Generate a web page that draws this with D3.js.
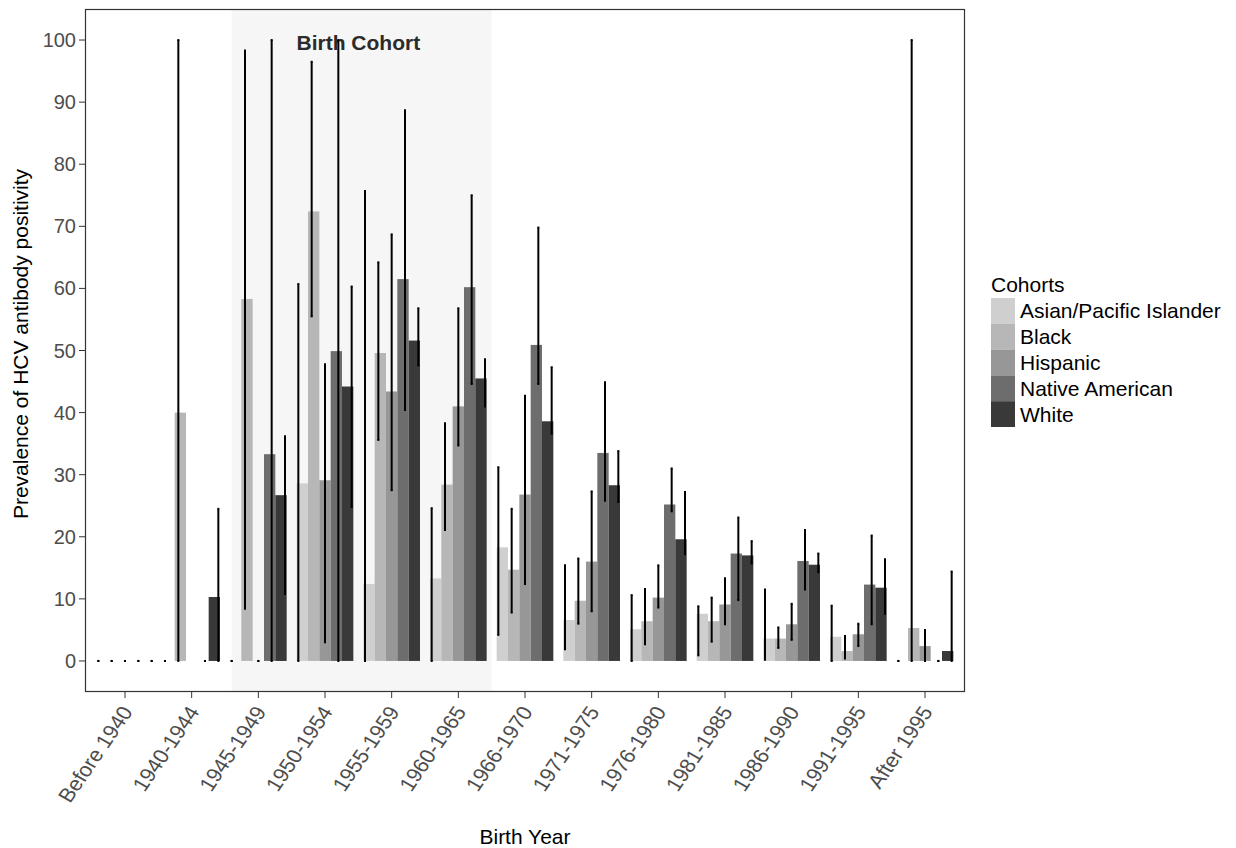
<!DOCTYPE html>
<html>
<head>
<meta charset="utf-8">
<script src="https://cdn.jsdelivr.net/npm/d3@7"></script>
<style>
  body { margin: 0; background: #fff; }
  svg { display: block; font-family: "Liberation Sans", Arial, sans-serif; }
</style>
</head>
<body>
<div class="canvas"></div>
<script>
const categories = ["Before 1940", "1940-1944", "1945-1949", "1950-1954", "1955-1959", "1960-1965",
  "1966-1970", "1971-1975", "1976-1980", "1981-1985", "1986-1990", "1991-1995", "After 1995"];
const cohorts = ["Asian/Pacific Islander", "Black", "Hispanic", "Native American", "White"];
const yTicks = [0, 10, 20, 30, 40, 50, 60, 70, 80, 90, 100];

// prevalence (%) and its interval, one array per cohort, null = not reported
const asian   = [0, 0, 0, 28.6, 12.4, 13.3, 18.3, 6.6, 5.1, 7.6, 3.6, 3.9, 0];
const asianLo = [0, 0, 0, 0, 0, 0, 4.2, 1.9, 0, 0.9, 0.2, 0, 0];
const asianHi = [0, 0, 0, 60.7, 75.7, 24.6, 31.2, 15.4, 10.6, 8.8, 11.5, 8.9, 0];

const black   = [0, 40.0, 58.3, 72.4, 49.6, 28.4, 14.7, 9.7, 6.4, 6.4, 3.6, 1.6, 5.3];
const blackLo = [0, 0, 8.4, 55.5, 35.6, 21.1, 7.8, 6.0, 2.7, 3.1, 2.1, 0.4, 0];
const blackHi = [0, 100, 98.3, 96.5, 64.2, 38.3, 24.5, 16.5, 11.6, 10.2, 5.4, 4.0, 100];

const hispanic   = [0, null, 0, 29.1, 43.4, 41.0, 26.8, 16.0, 10.2, 9.1, 5.9, 4.3, 2.4];
const hispanicLo = [0, null, 0, 3.0, 27.5, 34.7, 12.4, 8.0, 8.6, 5.9, 3.4, 2.4, 0];
const hispanicHi = [0, null, 0, 47.8, 68.7, 56.8, 42.7, 27.3, 15.4, 13.3, 9.2, 6.0, 5.0];

const native   = [0, 0, 33.3, 49.9, 61.5, 60.2, 50.9, 33.5, 25.2, 17.3, 16.1, 12.3, 0];
const nativeLo = [0, 0, 0, 0, 40.4, 44.6, 44.6, 25.8, 24.1, 9.8, 11.5, 5.9, 0];
const nativeHi = [0, 0, 100, 100, 88.7, 75.0, 69.8, 44.9, 31.0, 23.1, 21.1, 20.2, 0];

const white   = [0, 10.3, 26.7, 44.2, 51.6, 45.5, 38.6, 28.3, 19.6, 17.0, 15.5, 11.8, 1.6];
const whiteLo = [0, 0, 10.8, 24.8, 47.6, 41.0, 36.6, 25.6, 17.2, 15.7, 14.3, 7.6, 0];
const whiteHi = [0, 24.5, 36.2, 60.3, 56.8, 48.6, 47.3, 33.8, 27.2, 19.3, 17.3, 16.4, 14.4];

const fills = ["#cfcfcf", "#b7b7b7", "#979797", "#6d6d6d", "#393939"];

const series = [
  [asian, asianLo, asianHi],
  [black, blackLo, blackHi],
  [hispanic, hispanicLo, hispanicHi],
  [native, nativeLo, nativeHi],
  [white, whiteLo, whiteHi]
];

const rows = [];
categories.forEach((c, i) => {
  cohorts.forEach((g, j) => {
    const [v, lo, hi] = series[j];
    if (v[i] === null) return;
    rows.push({cat: c, cohort: g, value: v[i], lo: lo[i], hi: hi[i]});
  });
});

const W = 1236, H = 848;
const panel = {left: 85, right: 965, top: 9, bottom: 692};

const svg = d3.select(".canvas").append("svg")
  .attr("width", W).attr("height", H);

const x = d3.scaleBand()
  .domain(categories)
  .range([panel.left, panel.right])
  .paddingInner(0).paddingOuter(0.1);
const step = x.step();
const mid = c => x(c) + x.bandwidth() / 2;

// bars dodge over 0.85 of a category, the error bars over a full one
const xBar = d3.scaleBand().domain(cohorts).range([-0.425 * step, 0.425 * step]);
const xErr = d3.scaleBand().domain(cohorts).range([-0.5 * step, 0.5 * step]);

const y = d3.scaleLinear().domain([-5, 105]).range([panel.bottom, panel.top]);

const color = d3.scaleOrdinal().domain(cohorts).range(fills);

// birth cohort shading
svg.append("rect")
  .attr("x", mid("1945-1949") - 0.4 * step)
  .attr("y", panel.top)
  .attr("width", mid("1960-1965") + 0.5 * step - (mid("1945-1949") - 0.4 * step))
  .attr("height", panel.bottom - panel.top)
  .attr("fill", "#f6f6f6");

svg.append("text")
  .attr("x", mid("1950-1954") + step / 2)
  .attr("y", y(100) + 10)
  .attr("text-anchor", "middle")
  .attr("font-size", 21)
  .attr("font-weight", "bold")
  .attr("fill", "#2b2b2b")
  .text("Birth Cohort");

// bars
svg.append("g").selectAll("rect")
  .data(rows)
  .join("rect")
  .attr("x", d => mid(d.cat) + xBar(d.cohort))
  .attr("width", xBar.bandwidth())
  .attr("y", d => y(d.value))
  .attr("height", d => y(0) - y(d.value))
  .attr("fill", d => color(d.cohort));

// error bars
const err = svg.append("g").attr("stroke", "#000").attr("stroke-width", 2);
const ex = d => mid(d.cat) + xErr(d.cohort) + xErr.bandwidth() / 2;
err.selectAll("line.v")
  .data(rows)
  .join("line")
  .attr("class", "v")
  .attr("x1", ex).attr("x2", ex)
  .attr("y1", d => y(d.lo)).attr("y2", d => y(d.hi));
["lo", "hi"].forEach(k => {
  err.selectAll("line." + k)
    .data(rows)
    .join("line")
    .attr("class", k)
    .attr("x1", d => ex(d) - 1).attr("x2", d => ex(d) + 1)
    .attr("y1", d => y(d[k])).attr("y2", d => y(d[k]));
});

// panel border
svg.append("rect")
  .attr("x", panel.left + 0.5).attr("y", panel.top + 0.5)
  .attr("width", panel.right - panel.left - 1)
  .attr("height", panel.bottom - panel.top - 1)
  .attr("fill", "none")
  .attr("stroke", "#333").attr("stroke-width", 1.2);

// y axis
const yAxis = svg.append("g");
yAxis.selectAll("line")
  .data(yTicks).join("line")
  .attr("x1", panel.left - 6).attr("x2", panel.left)
  .attr("y1", d => y(d)).attr("y2", d => y(d))
  .attr("stroke", "#333").attr("stroke-width", 1);
yAxis.selectAll("text")
  .data(yTicks).join("text")
  .attr("x", panel.left - 9)
  .attr("y", d => y(d))
  .attr("dy", "0.35em")
  .attr("text-anchor", "end")
  .attr("font-size", 20)
  .attr("fill", "#4d4d4d")
  .text(d => d);

// x axis
const xAxis = svg.append("g");
xAxis.selectAll("line")
  .data(categories).join("line")
  .attr("x1", d => mid(d)).attr("x2", d => mid(d))
  .attr("y1", panel.bottom).attr("y2", panel.bottom + 6)
  .attr("stroke", "#333").attr("stroke-width", 1);
xAxis.selectAll("text")
  .data(categories).join("text")
  .attr("transform", d => `translate(${mid(d) + 2},${panel.bottom + 16}) scale(1.1,1) rotate(-58)`)
  .attr("dy", "0.35em")
  .attr("text-anchor", "end")
  .attr("font-size", 20)
  .attr("fill", "#4d4d4d")
  .text(d => d);

// axis titles
svg.append("text")
  .attr("x", (panel.left + panel.right) / 2)
  .attr("y", 844)
  .attr("text-anchor", "middle")
  .attr("font-size", 21)
  .attr("fill", "#000")
  .text("Birth Year");

svg.append("text")
  .attr("transform", `translate(28,344) rotate(-90)`)
  .attr("text-anchor", "middle")
  .attr("font-size", 21)
  .attr("fill", "#000")
  .text("Prevalence of HCV antibody positivity");

// legend
const legend = svg.append("g").attr("transform", "translate(991,298)");
legend.append("text")
  .attr("x", 0).attr("y", -6)
  .attr("font-size", 21)
  .text("Cohorts");
const item = legend.selectAll("g.item")
  .data(cohorts).join("g")
  .attr("class", "item")
  .attr("transform", (d, i) => `translate(0,${i * 25.8})`);
item.append("rect")
  .attr("width", 24).attr("height", 25.8)
  .attr("fill", d => color(d));
item.append("text")
  .attr("x", 29).attr("y", 12.9)
  .attr("dy", "0.36em")
  .attr("font-size", 21)
  .text(d => d);
</script>
</body>
</html>
